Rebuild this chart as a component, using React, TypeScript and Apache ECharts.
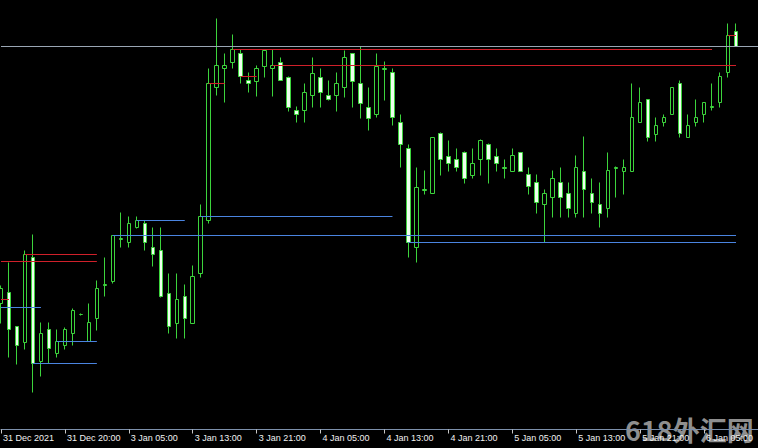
import React, { useEffect, useRef } from 'react';
import * as echarts from 'echarts';

// H1 bars, 31 Dec 2021 12:00 -> 6 Jan 2022 09:00 (price in chart points)
const tickLabels = [
  '31 Dec 2021', '31 Dec 20:00', '3 Jan 05:00', '3 Jan 13:00', '3 Jan 21:00', '4 Jan 05:00',
  '4 Jan 13:00', '4 Jan 21:00', '5 Jan 05:00', '5 Jan 13:00', '5 Jan 21:00', '6 Jan 05:00',
];
const barsPerLabel = 8;

const opens = [
  145, 156, 122, 106, 191, 87, 119, 95, 103, 115, 134, 107, 130, 163, 167, 209,
  206, 221, 225, 201, 198, 155, 125, 152, 125, 175, 228, 361, 380, 386, 395, 368,
  367, 382, 380, 386, 371, 338, 338, 353, 371, 353, 353, 361, 395, 365, 341, 334,
  379, 376, 326, 300, 201, 258, 255, 315, 292, 289, 296, 273, 289, 304, 292, 280,
  277, 296, 274, 266, 244, 251, 266, 255, 235, 277, 255, 244, 240, 280, 277, 277,
  326, 349, 314, 326, 334, 365, 311, 326, 334, 341, 346, 376, 417,
];
const closes = [
  160, 119, 103, 194, 85, 115, 100, 107, 119, 138, 134, 126, 160, 164, 213, 210,
  225, 228, 206, 194, 152, 122, 149, 130, 172, 232, 365, 383, 383, 399, 372, 365,
  380, 398, 383, 368, 341, 334, 356, 375, 356, 349, 365, 391, 367, 345, 330, 382,
  380, 331, 304, 206, 261, 259, 311, 289, 285, 281, 270, 285, 308, 289, 285, 281,
  293, 277, 262, 246, 255, 270, 251, 240, 281, 259, 246, 235, 278, 281, 281, 331,
  346, 311, 323, 331, 361, 315, 323, 331, 346, 342, 372, 413, 402,
];
const lows = [
  125, 91, 84, 99, 56, 72, 85, 91, 99, 103, 133, 107, 118, 152, 165, 201,
  201, 220, 198, 182, 151, 115, 110, 110, 125, 171, 225, 353, 346, 380, 365, 356,
  352, 371, 352, 368, 337, 326, 326, 341, 341, 348, 337, 351, 341, 330, 318, 331,
  348, 323, 281, 191, 186, 254, 255, 273, 277, 277, 265, 270, 273, 265, 277, 270,
  277, 277, 254, 235, 206, 231, 231, 231, 231, 231, 235, 221, 231, 251, 254, 277,
  326, 307, 307, 322, 334, 311, 311, 322, 326, 338, 341, 371, 402,
];
const highs = [
  163, 186, 122, 198, 214, 126, 126, 119, 121, 140, 135, 145, 168, 191, 213, 236,
  232, 232, 228, 221, 221, 175, 175, 164, 183, 244, 380, 430, 395, 414, 399, 376,
  383, 399, 399, 391, 372, 342, 365, 391, 380, 368, 376, 398, 395, 402, 361, 395,
  387, 380, 334, 304, 281, 278, 311, 316, 308, 300, 297, 300, 309, 305, 300, 289,
  300, 296, 281, 274, 259, 278, 281, 266, 293, 312, 270, 266, 296, 282, 289, 365,
  361, 349, 331, 334, 361, 368, 334, 349, 346, 365, 376, 425, 425,
];

const bidPrice = 402;

// horizontal levels: price, first bar, last bar
const redPrices = [187, 194, 149, 365, 372, 399, 383, 413];
const redStarts = [0, 3, 0, 26, 30, 29, 34, 91];
const redEnds = [12, 12, 1, 28, 32, 89, 92, 92];

const bluePrices = [141, 107, 85, 228, 213, 232, 206];
const blueStarts = [0, 7, 4, 17, 14, 25, 51];
const blueEnds = [5, 12, 12, 23, 92, 49, 92];

const GREEN = '#3cd43c';
const X_MAX = 94.75;

function levelSeries(rows: number[][], color: string) {
  return {
    type: 'custom',
    data: rows,
    encode: { x: [0, 1], y: 2 },
    silent: true,
    clip: true,
    z: 3,
    renderItem: (_params: any, api: any) => {
      const p1 = api.coord([api.value(0), api.value(2)]);
      const p2 = api.coord([api.value(1), api.value(2)]);
      const y = Math.floor(p1[1] + 1e-6) + 0.5;
      return {
        type: 'line',
        shape: { x1: p1[0], y1: y, x2: p2[0], y2: y },
        style: { stroke: color, lineWidth: 1, fill: null },
      };
    },
  };
}

export default function App() {
  const ref = useRef<HTMLDivElement>(null);
  useEffect(() => {
    document.body.style.margin = '0';
    document.body.style.background = '#000';
    const chart = echarts.init(ref.current!, undefined, { renderer: 'svg' });
    const candles = opens.map((o, i) => [i, o, closes[i], lows[i], highs[i]]);
    const redRows = redPrices.map((p, k) => [redStarts[k], redEnds[k], p]);
    const blueRows = bluePrices.map((p, k) => [blueStarts[k], blueEnds[k], p]);
    chart.setOption({
      animation: false,
      backgroundColor: '#000000',
      grid: { left: 0, right: 0, top: 0.5, bottom: 18.5 },
      xAxis: {
        type: 'value',
        min: 0,
        max: X_MAX,
        interval: barsPerLabel,
        z: 5,
        zlevel: 1,
        splitLine: { show: false },
        axisLine: { show: true, onZero: false, lineStyle: { color: '#7d90ab', width: 1 } },
        axisTick: { show: true, length: 4, lineStyle: { color: '#c8c8c8' } },
        axisLabel: {
          showMaxLabel: false,
          align: 'left',
          margin: 4,
          padding: [0, 0, 0, 2],
          color: '#f2f2f2',
          fontSize: 9,
          fontFamily: '"Liberation Sans", Arial, sans-serif',
          formatter: (v: number) => {
            const k = Math.round(v / barsPerLabel);
            return Math.abs(v - k * barsPerLabel) < 1e-6 && k < tickLabels.length ? tickLabels[k] : '';
          },
        },
      },
      yAxis: { type: 'value', min: 19, max: 448, show: false, splitLine: { show: false } },
      series: [
        {
          type: 'candlestick',
          data: candles,
          encode: { x: 0, y: [1, 2, 3, 4] },
          barWidth: 4,
          z: 2,
          itemStyle: {
            color: '#000000',
            color0: '#eeffee',
            borderColor: GREEN,
            borderColor0: GREEN,
            borderColorDoji: GREEN,
            borderWidth: 1,
          },
        },
        levelSeries(redRows, '#d0202a'),
        levelSeries(blueRows, '#4a84e0'),
        levelSeries([[0, X_MAX, bidPrice]], '#9aa6b4'),
      ],
      graphic: {
        z: -1,
        elements: [
          {
            type: 'text',
            x: 625,
            y: 429,
            z: -1,
            style: {
              text: '618外汇网',
              fill: 'rgba(200,200,200,0.72)',
              font: 'bold 27px "Noto Sans CJK SC"',
              textVerticalAlign: 'middle',
            },
          },
        ],
      },
    });
    return () => chart.dispose();
  }, []);
  return (
    <div
      ref={ref}
      style={{ position: 'fixed', left: 0, top: 0, width: 758, height: 448, background: '#000' }}
    />
  );
}
